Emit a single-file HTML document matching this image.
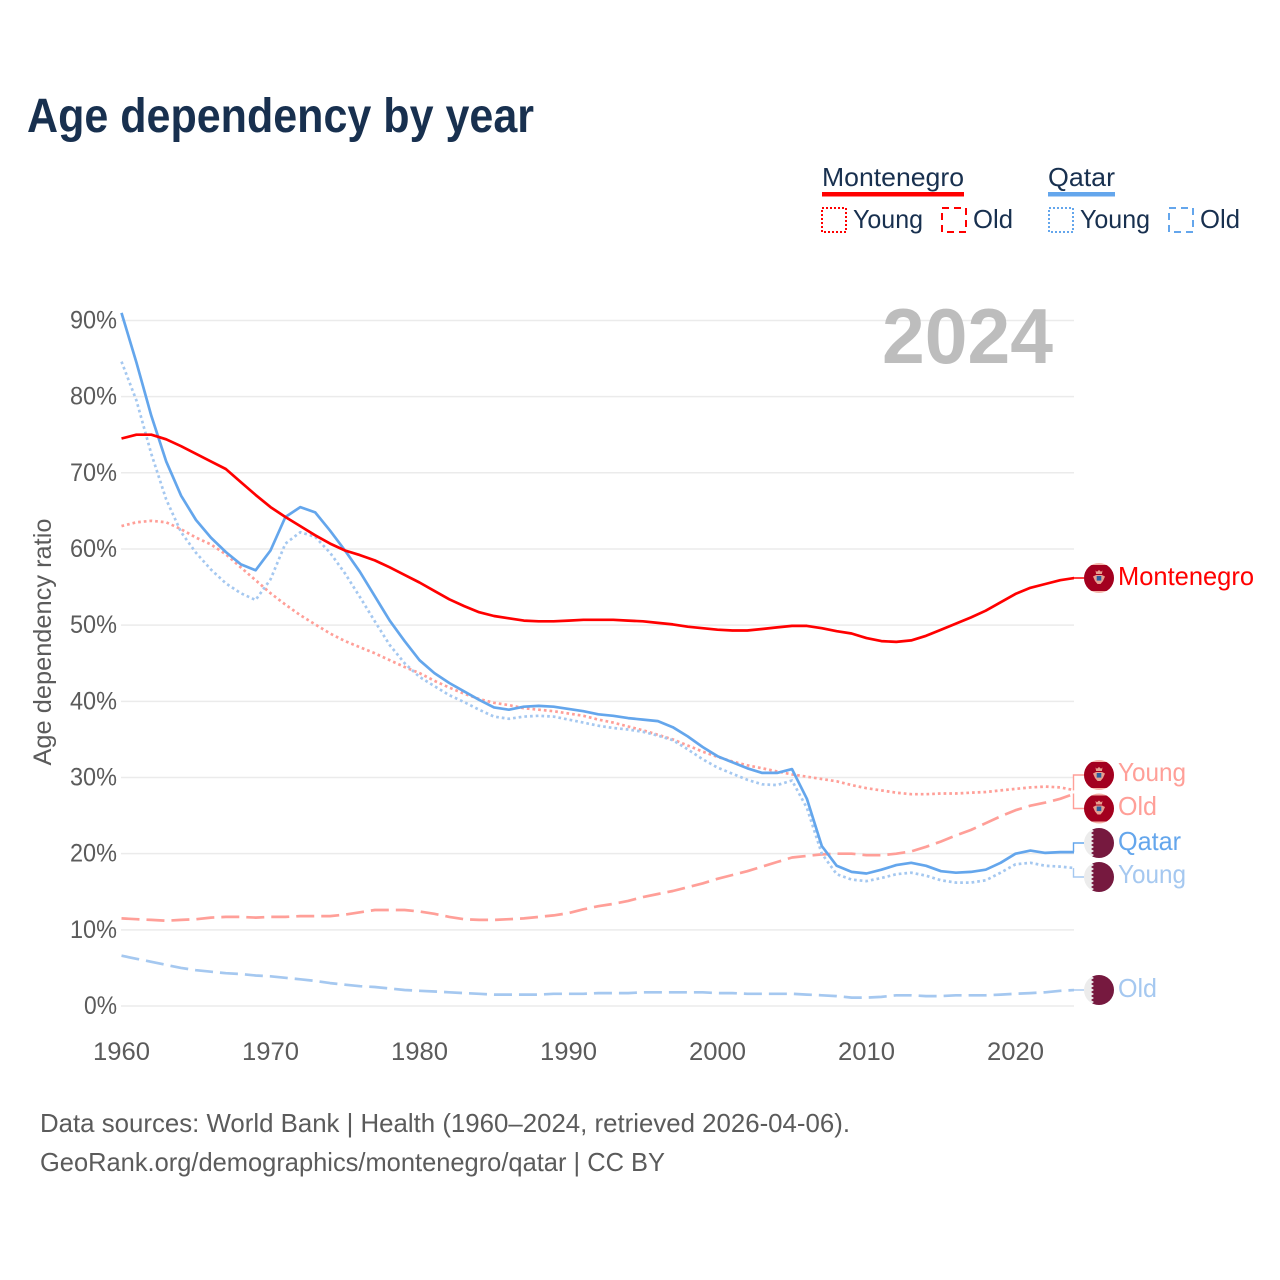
<!DOCTYPE html>
<html lang="en">
<head>
<meta charset="utf-8">
<title>Age dependency by year</title>
<style>
html,body{margin:0;padding:0;background:#fff;}
svg{display:block;}
text{font-family:"Liberation Sans",sans-serif;}
</style>
</head>
<body>
<svg id="chart" xmlns="http://www.w3.org/2000/svg" width="1280" height="1280" viewBox="0 0 1280 1280">
  <defs>
    <clipPath id="flag-clip"><circle cx="0" cy="0" r="15"/></clipPath>
    <clipPath id="plot-clip"><rect x="115" y="290" width="959" height="730"/></clipPath>
    <symbol id="flag-mne" overflow="visible" viewBox="-16 -16 32 32" width="32" height="32">
      <g clip-path="url(#flag-clip)">
        <rect x="-16" y="-16" width="32" height="32" fill="#f4b3a8"/>
        <rect x="-16" y="-13" width="32" height="26" fill="#a3001f"/>
        <path d="M-3.500-7.500l1.500 1.200L0-8l2 1.700 1.500-1.200-.6 3.500h-5.800z" fill="#e8a090"/>
        <path d="M-6 -1.500 L-3 -3 L3 -3 L6 -1.500 L4 3 L1.500 6 L-1.500 6 L-4 3Z" fill="#e8a090"/>
        <rect x="-2.300" y="-2" width="4.600" height="4.600" fill="#2a5f9e"/>
      </g>
    </symbol>
    <symbol id="flag-qat" overflow="visible" viewBox="-16 -16 32 32" width="32" height="32">
      <g clip-path="url(#flag-clip)">
        <rect x="-16" y="-16" width="32" height="32" fill="#ececec"/>
        <path d="M16-16H-5l-3 2 3 2-3 2 3 2-3 2 3 2-3 2 3 2-3 2 3 2-3 2 3 2-3 2 3 2-3 2 3 2H16z" fill="#76193f"/>
      </g>
    </symbol>
  </defs>

  <text x="27" y="132" font-size="48" font-weight="700" fill="#18304f" textLength="507" lengthAdjust="spacingAndGlyphs">Age dependency by year</text>

  <g font-size="26" fill="#18304f">
    <text x="822" y="186" textLength="142" lengthAdjust="spacingAndGlyphs">Montenegro</text>
    <rect x="822" y="192" width="142" height="4.500" fill="#ff0000"/>
    <rect x="822" y="208" width="24" height="24" fill="none" stroke="#ff0000" stroke-width="2" stroke-dasharray="2 2"/>
    <text x="853" y="228" textLength="70" lengthAdjust="spacingAndGlyphs">Young</text>
    <rect x="942" y="208" width="24" height="24" fill="none" stroke="#ff0000" stroke-width="2" stroke-dasharray="7 5"/>
    <text x="973" y="228" textLength="40" lengthAdjust="spacingAndGlyphs">Old</text>
    <text x="1048" y="186" textLength="67" lengthAdjust="spacingAndGlyphs">Qatar</text>
    <rect x="1048" y="192" width="67" height="4.500" fill="#64a6ec"/>
    <rect x="1049" y="208" width="24" height="24" fill="none" stroke="#64a6ec" stroke-width="2" stroke-dasharray="2 2"/>
    <text x="1080" y="228" textLength="70" lengthAdjust="spacingAndGlyphs">Young</text>
    <rect x="1169" y="208" width="24" height="24" fill="none" stroke="#64a6ec" stroke-width="2" stroke-dasharray="7 5"/>
    <text x="1200" y="228" textLength="40" lengthAdjust="spacingAndGlyphs">Old</text>
  </g>

  <g id="grid"></g>
  <g id="y-axis"></g>
  <g id="x-axis"></g>

  <text transform="translate(51,642) rotate(-90)" text-anchor="middle" font-size="25" fill="#5b5b5b" textLength="247" lengthAdjust="spacingAndGlyphs">Age dependency ratio</text>
  <text x="882" y="363" font-size="78" font-weight="700" fill="#bdbdbd" textLength="171" lengthAdjust="spacingAndGlyphs">2024</text>

  <g id="connectors"></g>
  <g id="series" clip-path="url(#plot-clip)"></g>

  <use href="#flag-mne" x="1083" y="562"/>
  <use href="#flag-mne" x="1083" y="759"/>
  <use href="#flag-mne" x="1083" y="792.500"/>
  <use href="#flag-qat" x="1083" y="827"/>
  <use href="#flag-qat" x="1083" y="861"/>
  <use href="#flag-qat" x="1083" y="974"/>

  <g font-size="26">
    <text x="1118" y="585" fill="#ff0000" textLength="136" lengthAdjust="spacingAndGlyphs">Montenegro</text>
    <text x="1118" y="781" fill="#ff9f98" textLength="68" lengthAdjust="spacingAndGlyphs">Young</text>
    <text x="1118" y="815" fill="#ff9f98" textLength="39" lengthAdjust="spacingAndGlyphs">Old</text>
    <text x="1118" y="850" fill="#64a6ec" textLength="63" lengthAdjust="spacingAndGlyphs">Qatar</text>
    <text x="1118" y="883" fill="#a5c8f0" textLength="68" lengthAdjust="spacingAndGlyphs">Young</text>
    <text x="1118" y="997" fill="#a5c8f0" textLength="39" lengthAdjust="spacingAndGlyphs">Old</text>
  </g>

  <g font-size="26" fill="#5b5b5b">
    <text x="40" y="1132" textLength="810" lengthAdjust="spacingAndGlyphs">Data sources: World Bank | Health (1960–2024, retrieved 2026-04-06).</text>
    <text x="40" y="1171" textLength="625" lengthAdjust="spacingAndGlyphs">GeoRank.org/demographics/montenegro/qatar | CC BY</text>
  </g>
</svg>
<script>
const startYear = 1960;
const yTickValues = [0, 10, 20, 30, 40, 50, 60, 70, 80, 90];
const xTickValues = [1960, 1970, 1980, 1990, 2000, 2010, 2020];

const montenegroTotal = [74.5,75,75,74.4,73.5,72.5,71.5,70.5,68.8,67.1,65.5,64.2,63,61.8,60.7,59.8,59.2,58.5,57.6,56.6,55.6,54.5,53.4,52.5,51.7,51.2,50.9,50.6,50.5,50.5,50.6,50.7,50.7,50.7,50.6,50.5,50.3,50.1,49.8,49.6,49.4,49.3,49.3,49.5,49.7,49.9,49.9,49.6,49.2,48.9,48.3,47.9,47.8,48,48.6,49.4,50.2,51,51.9,53,54.1,54.9,55.4,55.9,56.2];
const montenegroYoung = [63,63.5,63.7,63.5,62.6,61.5,60.6,59.3,57.6,55.9,54.2,52.7,51.3,50.1,48.9,47.9,47.1,46.3,45.4,44.5,43.7,42.7,41.8,41,40.3,39.8,39.5,39.1,38.9,38.7,38.4,38.1,37.6,37.2,36.7,36.2,35.6,35,34.2,33.4,32.7,32.1,31.6,31.2,30.8,30.4,30.1,29.8,29.5,29,28.6,28.3,28,27.8,27.8,27.9,27.9,28,28.1,28.3,28.5,28.7,28.8,28.7,28.3];
const montenegroOld = [11.5,11.4,11.3,11.2,11.3,11.4,11.6,11.7,11.7,11.6,11.7,11.7,11.8,11.8,11.8,12,12.3,12.6,12.6,12.6,12.4,12.1,11.7,11.4,11.3,11.3,11.4,11.5,11.7,11.9,12.2,12.7,13.1,13.4,13.8,14.3,14.7,15.1,15.6,16.1,16.7,17.2,17.7,18.3,18.9,19.5,19.7,19.9,20,20,19.8,19.8,20,20.3,20.9,21.6,22.4,23.1,24,24.9,25.7,26.3,26.7,27.2,27.9];
const qatarTotal = [91,84.5,77.5,71.5,67,63.8,61.5,59.6,58,57.2,59.8,64.2,65.5,64.8,62.4,59.8,57,53.8,50.6,47.9,45.4,43.7,42.4,41.3,40.2,39.2,38.9,39.3,39.4,39.3,39,38.7,38.3,38.1,37.8,37.6,37.4,36.6,35.4,34,32.8,32,31.2,30.6,30.6,31.1,27.2,21,18.4,17.6,17.4,17.9,18.5,18.8,18.4,17.7,17.5,17.6,17.9,18.8,20,20.4,20.1,20.2,20.2];
const qatarYoung = [84.6,79.5,72.5,66.5,62.2,59.5,57.3,55.5,54.2,53.3,56,60.7,62.2,61.6,59.5,56.8,53.7,50.5,47.4,45,43.2,42,40.8,39.9,38.9,38,37.7,38,38.1,38,37.6,37.2,36.8,36.5,36.3,36,35.5,34.9,33.7,32.4,31.3,30.5,29.7,29.1,29,29.6,26,20,17.3,16.6,16.4,16.8,17.3,17.5,17.1,16.5,16.2,16.2,16.5,17.5,18.6,18.8,18.4,18.3,18.1];
const qatarOld = [6.6,6.2,5.8,5.4,5,4.7,4.5,4.3,4.2,4,3.9,3.7,3.5,3.3,3,2.8,2.6,2.5,2.3,2.1,2,1.9,1.8,1.7,1.6,1.5,1.5,1.5,1.5,1.6,1.6,1.6,1.7,1.7,1.7,1.8,1.8,1.8,1.8,1.8,1.7,1.7,1.6,1.6,1.6,1.6,1.5,1.4,1.3,1.1,1.1,1.2,1.4,1.4,1.3,1.3,1.4,1.4,1.4,1.5,1.6,1.7,1.8,2,2.1];

const NS = 'http://www.w3.org/2000/svg';
function xScale(year) { return 121.5 + (year - 1960) * 14.9; }
function yScale(v) { return 1006 - v * 7.617; }
function make(tag, parent) {
  const el = document.createElementNS(NS, tag);
  parent.appendChild(el);
  return el;
}

const gridG = document.getElementById('grid');
const yG = document.getElementById('y-axis');
const xG = document.getElementById('x-axis');
const seriesG = document.getElementById('series');
const connG = document.getElementById('connectors');

yTickValues.forEach(function (v) {
  const line = make('line', gridG);
  
  
  line.setAttribute('x1', 121);
  line.setAttribute('x2', 1074);
  line.setAttribute('y1', yScale(v));
  line.setAttribute('y2', yScale(v));
  line.setAttribute('stroke', '#ebebeb');
  line.setAttribute('stroke-width', 1.5);
  const t = make('text', yG);
  
  
  t.setAttribute('x', 117);
  t.setAttribute('y', yScale(v) + 8);
  t.setAttribute('text-anchor', 'end');
  t.setAttribute('font-size', 25);
  t.setAttribute('fill', '#5b5b5b');
  t.setAttribute('textLength', v === 0 ? 33 : 47);
  t.setAttribute('lengthAdjust', 'spacingAndGlyphs');
  t.textContent = v + '%';
});

xTickValues.forEach(function (yr) {
  const t = make('text', xG);
  
  
  t.setAttribute('x', xScale(yr));
  t.setAttribute('y', 1060);
  t.setAttribute('text-anchor', 'middle');
  t.setAttribute('font-size', 25);
  t.setAttribute('fill', '#5b5b5b');
  t.setAttribute('textLength', 57);
  t.setAttribute('lengthAdjust', 'spacingAndGlyphs');
  t.textContent = yr;
});

function drawSeries(name, values, color, dash) {
  const p = make('polyline', seriesG);
  
  
  p.setAttribute('points', values.map(function (v, i) {
    return xScale(startYear + i).toFixed(1) + ',' + yScale(v).toFixed(1);
  }).join(' '));
  p.setAttribute('fill', 'none');
  p.setAttribute('stroke', color);
  p.setAttribute('stroke-width', 2.7);
  p.setAttribute('stroke-linejoin', 'round');
  if (dash) { p.setAttribute('stroke-dasharray', dash); }
}

drawSeries('line-montenegro-old', montenegroOld, '#ff9f98', '18 7');
drawSeries('line-qatar-old', qatarOld, '#a5c8f0', '18 7');
drawSeries('line-montenegro-young', montenegroYoung, '#ff9f98', '2.7 3');
drawSeries('line-qatar-young', qatarYoung, '#a5c8f0', '2.7 3');
drawSeries('line-qatar-total', qatarTotal, '#64a6ec', null);
drawSeries('line-montenegro-total', montenegroTotal, '#ff0000', null);

function drawConnector(name, values, flagY, color) {
  const last = yScale(values[values.length - 1]);
  const p = make('polyline', connG);
  
  
  p.setAttribute('points', '1073.5,' + last.toFixed(1) + ' 1073.5,' + flagY + ' 1084,' + flagY);
  p.setAttribute('fill', 'none');
  p.setAttribute('stroke', color);
  p.setAttribute('stroke-width', 1.4);
}

drawConnector('connector-montenegro', montenegroTotal, 578, '#ff0000');
drawConnector('connector-montenegro-young', montenegroYoung, 775, '#ff9f98');
drawConnector('connector-montenegro-old', montenegroOld, 808.5, '#ff9f98');
drawConnector('connector-qatar', qatarTotal, 843, '#64a6ec');
drawConnector('connector-qatar-young', qatarYoung, 877, '#a5c8f0');
drawConnector('connector-qatar-old', qatarOld, 990, '#a5c8f0');
</script>
</body>
</html>
